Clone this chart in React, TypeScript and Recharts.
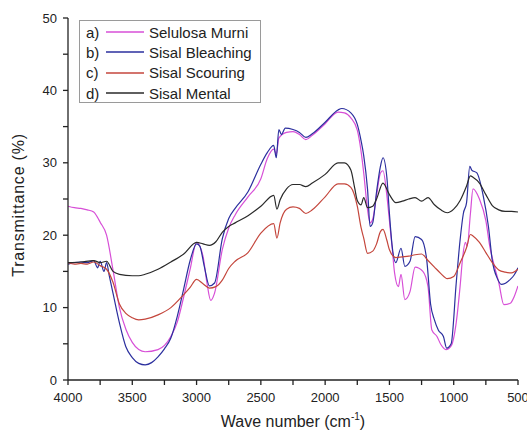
import {
    LineChart,
    Line,
    XAxis,
    YAxis,
    Legend,
} from "recharts";

// FTIR spectra, [wave number (cm-1), transmittance (%)]
const selulosaMurni: [number, number][] = [
    [4000, 24.0], [3950, 23.8], [3900, 23.7], [3850, 23.5], [3800, 23.2], [3775, 22.6],
    [3750, 21.8], [3700, 20.0], [3650, 15.2], [3600, 10.0], [3550, 7.0], [3500, 5.2],
    [3450, 4.2], [3400, 3.9], [3300, 4.2], [3200, 6.0], [3150, 8.0], [3100, 11.5],
    [3050, 15.3], [3000, 19.0], [2950, 17.1], [2920, 13.5], [2890, 11.0], [2860, 12.0],
    [2800, 18.0], [2750, 21.0], [2700, 22.8], [2600, 25.3], [2500, 27.8], [2450, 30.6],
    [2400, 31.9], [2380, 31.2], [2360, 33.4], [2300, 34.2], [2250, 34.3], [2200, 33.9],
    [2150, 33.2], [2100, 33.8], [2000, 35.4], [1900, 37.0], [1850, 36.9], [1800, 36.2],
    [1750, 34.5], [1720, 31.5], [1700, 28.6], [1670, 23.5], [1650, 21.7], [1630, 22.2],
    [1600, 25.5], [1570, 28.6], [1550, 28.9], [1520, 25.5], [1500, 22.0], [1480, 18.5],
    [1460, 14.8], [1430, 12.9], [1410, 14.6], [1380, 11.1], [1340, 12.2], [1300, 15.6],
    [1240, 15.0], [1200, 12.9], [1170, 6.9], [1130, 6.0], [1100, 4.9], [1060, 4.2],
    [1020, 4.7], [980, 8.0], [950, 13.0], [930, 17.0], [910, 19.0], [895, 18.5],
    [870, 23.0], [850, 26.4], [800, 25.0], [750, 22.0], [720, 18.5], [680, 15.5],
    [650, 13.5], [610, 10.4], [560, 10.6], [530, 11.5], [500, 13.0],
];

const sisalBleaching: [number, number][] = [
    [4000, 16.0], [3950, 16.2], [3900, 16.3], [3850, 16.2], [3800, 16.5], [3770, 15.5],
    [3750, 16.4], [3720, 15.0], [3700, 16.2], [3680, 14.5], [3650, 12.0], [3600, 7.9],
    [3550, 4.6], [3500, 3.1], [3450, 2.3], [3400, 2.1], [3350, 2.4], [3300, 3.2],
    [3250, 4.3], [3200, 5.8], [3150, 8.8], [3100, 12.6], [3050, 16.5], [3000, 18.8],
    [2975, 18.5], [2940, 15.7], [2900, 13.0], [2860, 13.4], [2800, 19.5], [2750, 22.3],
    [2700, 23.7], [2600, 26.0], [2500, 29.8], [2450, 31.4], [2400, 32.4], [2380, 30.7],
    [2360, 34.6], [2340, 33.9], [2310, 34.8], [2250, 34.6], [2200, 34.2], [2150, 33.5],
    [2100, 34.0], [2000, 35.6], [1900, 37.3], [1870, 37.5], [1800, 36.9], [1750, 35.3],
    [1720, 33.0], [1700, 31.0], [1670, 26.3], [1650, 21.2], [1630, 21.7], [1600, 26.0],
    [1570, 29.5], [1550, 30.7], [1520, 28.0], [1500, 23.0], [1480, 18.7], [1450, 16.2],
    [1410, 18.2], [1380, 15.7], [1340, 16.4], [1300, 19.8], [1250, 19.4], [1210, 16.6],
    [1180, 10.5], [1150, 8.3], [1120, 6.9], [1080, 6.0], [1055, 4.4], [1020, 5.0],
    [980, 13.5], [950, 19.4], [925, 23.0], [900, 24.5], [875, 29.5], [860, 29.0],
    [820, 28.6], [770, 25.4], [730, 21.2], [700, 16.5], [660, 14.0], [630, 13.2],
    [560, 13.9], [530, 14.5], [500, 15.5],
];

const sisalScouring: [number, number][] = [
    [4000, 16.2], [3950, 16.0], [3900, 16.1], [3850, 16.0], [3800, 16.3], [3750, 15.8],
    [3700, 15.3], [3650, 13.5], [3600, 10.5], [3550, 9.2], [3500, 8.6], [3450, 8.3],
    [3400, 8.4], [3300, 9.0], [3200, 10.0], [3100, 11.8], [3050, 12.8], [3000, 13.9],
    [2950, 13.3], [2900, 12.7], [2850, 12.9], [2800, 13.8], [2750, 15.4], [2700, 16.4],
    [2600, 17.6], [2500, 20.3], [2400, 21.6], [2375, 19.6], [2350, 21.7], [2300, 23.6],
    [2250, 23.9], [2200, 23.7], [2150, 23.0], [2100, 23.5], [2000, 25.3], [1900, 27.1],
    [1850, 27.1], [1800, 26.6], [1750, 24.0], [1720, 21.0], [1700, 19.6], [1670, 17.5],
    [1630, 17.8], [1600, 18.8], [1570, 20.5], [1550, 20.8], [1520, 19.3], [1500, 18.0],
    [1450, 16.9], [1400, 17.0], [1350, 17.1], [1300, 17.3], [1250, 17.4], [1200, 16.5],
    [1150, 15.6], [1100, 14.7], [1050, 14.0], [1000, 14.3], [950, 16.2], [900, 18.3],
    [870, 20.1], [850, 19.9], [800, 19.0], [750, 17.6], [700, 16.2], [650, 15.2],
    [600, 14.9], [550, 14.8], [500, 15.3],
];

const sisalMental: [number, number][] = [
    [4000, 16.2], [3900, 16.3], [3800, 16.5], [3750, 16.2], [3700, 16.4], [3650, 15.0],
    [3600, 14.6], [3500, 14.4], [3450, 14.4], [3400, 14.6], [3300, 15.3], [3200, 16.3],
    [3100, 17.4], [3000, 19.0], [2950, 18.8], [2900, 18.6], [2850, 19.1], [2800, 20.4],
    [2750, 21.2], [2700, 21.7], [2600, 22.7], [2500, 24.0], [2400, 25.5], [2375, 23.6],
    [2350, 24.9], [2300, 26.4], [2250, 27.0], [2200, 27.0], [2150, 26.7], [2100, 27.2],
    [2000, 28.4], [1900, 30.0], [1850, 30.0], [1800, 29.0], [1770, 26.5], [1750, 24.8],
    [1720, 24.2], [1700, 25.2], [1670, 23.8], [1630, 24.0], [1600, 25.0], [1550, 27.2],
    [1500, 25.6], [1450, 24.5], [1400, 24.7], [1350, 25.0], [1300, 25.2], [1250, 24.7],
    [1200, 25.2], [1150, 24.2], [1100, 23.5], [1050, 23.1], [1000, 23.6], [950, 24.8],
    [900, 26.8], [870, 28.2], [850, 28.0], [800, 27.2], [750, 25.6], [700, 24.1],
    [650, 23.5], [600, 23.3], [550, 23.3], [500, 23.2],
];

const seriesNames = ["Selulosa Murni", "Sisal Bleaching", "Sisal Scouring", "Sisal Mental"];
const seriesLetters = ["a)", "b)", "c)", "d)"];
const seriesColors = ["#d74fd7", "#2b2f9e", "#c4463c", "#2a2a2a"];
const seriesPairs = [selulosaMurni, sisalBleaching, sisalScouring, sisalMental];

const xTicks = [4000, 3750, 3500, 3250, 3000, 2750, 2500, 2250, 2000, 1750, 1500, 1250, 1000, 750, 500];
const yTicks = [0, 5, 10, 15, 20, 25, 30, 35, 40, 45, 50];

const FONT = "'Liberation Sans', Arial, sans-serif";

const toRows = (pairs: [number, number][]) => pairs.map(([wn, t]) => ({ wn, t }));

// legend keeps the a) b) c) d) order of the original figure
function SpectraLegend() {
    return (
        <div
            style={{
                width: 182,
                height: 83,
                boxSizing: "border-box",
                border: "1px solid #9a9a9a",
                background: "#fff",
                fontFamily: FONT,
                fontSize: 15,
                color: "#222",
                paddingTop: 1,
            }}
        >
            {seriesNames.map((name, i) => (
                <div key={name} style={{ display: "flex", alignItems: "center", height: 20.3 }}>
                    <span style={{ width: 19, marginLeft: 6 }}>{seriesLetters[i]}</span>
                    <svg width={38} height={4} style={{ marginLeft: 1 }}>
                        <line x1={0} y1={2} x2={38} y2={2} stroke={seriesColors[i]} strokeWidth={1.3} />
                    </svg>
                    <span style={{ marginLeft: 5 }}>{name}</span>
                </div>
            ))}
        </div>
    );
}

function XLabel(props: any) {
    const vb = props.viewBox;
    return (
        <text x={vb.x + vb.width / 2} y={427} textAnchor="middle" fontFamily={FONT} fontSize={16} fill="#222">
            Wave number (cm
            <tspan dy={-7} fontSize={10}>-1</tspan>
            <tspan dy={7}>)</tspan>
        </text>
    );
}

function YLabel(props: any) {
    const vb = props.viewBox;
    const cy = vb.y + vb.height / 2 + 6;
    return (
        <text
            x={24}
            y={cy}
            transform={`rotate(-90, 24, ${cy})`}
            textAnchor="middle"
            fontFamily={FONT}
            fontSize={16}
            letterSpacing={0.8}
            fill="#222"
        >
            Transmittance (%)
        </text>
    );
}

export default function App() {
    return (
        <div style={{ position: "absolute", left: 0, top: 0, background: "#fff" }}>
            <LineChart width={527} height={434} margin={{ top: 18, right: 9, left: 0, bottom: 0 }}>
                <XAxis
                    type="number"
                    dataKey="wn"
                    domain={[500, 4000]}
                    reversed
                    ticks={xTicks}
                    interval={0}
                    allowDataOverflow
                    height={54}
                    tickSize={5}
                    tickMargin={8}
                    tickFormatter={(v: number) => (v % 500 === 0 ? String(v) : "")}
                    tick={{ fill: "#222", fontSize: 13, fontFamily: FONT }}
                    stroke="#222"
                    strokeWidth={1.3}
                    label={<XLabel />}
                />
                <YAxis
                    type="number"
                    domain={[0, 50]}
                    ticks={yTicks}
                    interval={0}
                    width={68}
                    tickSize={5}
                    tickMargin={6}
                    tickFormatter={(v: number) => (v % 10 === 0 ? String(v) : "")}
                    tick={{ fill: "#222", fontSize: 13, fontFamily: FONT }}
                    stroke="#222"
                    strokeWidth={1.3}
                    label={<YLabel />}
                />
                <Legend
                    layout="vertical"
                    align="center"
                    verticalAlign="middle"
                    wrapperStyle={{ left: 79, top: 20, width: 182 }}
                    content={<SpectraLegend />}
                />
                {seriesPairs.map((pairs, i) => (
                    <Line
                        key={seriesNames[i]}
                        data={toRows(pairs)}
                        dataKey="t"
                        name={seriesNames[i]}
                        type="monotone"
                        stroke={seriesColors[i]}
                        strokeWidth={1.2}
                        dot={false}
                        isAnimationActive={false}
                    />
                ))}
            </LineChart>
        </div>
    );
}
